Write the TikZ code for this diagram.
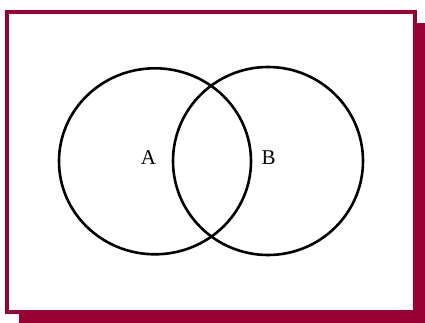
\documentclass[tikz,border=0pt]{standalone}
\usepackage{fontspec}
\setmainfont{Liberation Serif}
\usetikzlibrary{shapes.geometric}
\definecolor{frame}{HTML}{990033}
\begin{document}
\begin{tikzpicture}[x=1pt,y=-1pt,
  setring/.style={draw=black,line width=2.6pt},
  setlabel/.style={font=\fontsize{21}{24}\selectfont,inner sep=0pt}]
\useasboundingbox (0,0) rectangle (425,323);
\fill[white] (0,0) rectangle (425,323);
% shadow
\fill[frame] (19,23) rectangle (425,323);
% panel
\draw[frame,fill=white,line width=4pt] (7,12) rectangle (415,311.5);
% sets
\node[setring,ellipse,minimum width=192pt,minimum height=186pt,inner sep=0pt] (setA) at (155,161.3) {};
\node[setring,ellipse,minimum width=190pt,minimum height=188pt,inner sep=0pt] (setB) at (268,161) {};
\node[setlabel] (labA) at (148.5,158) {A};
\node[setlabel] (labB) at (268.5,158) {B};
\end{tikzpicture}
\end{document}
